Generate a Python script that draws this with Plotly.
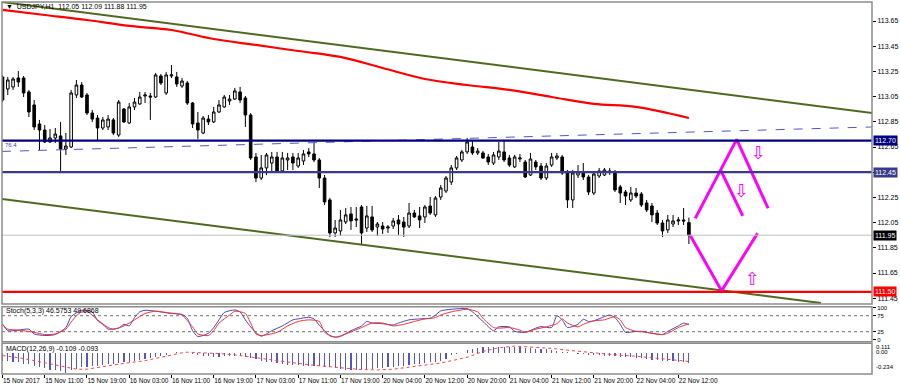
import plotly.graph_objects as go

# ---------------- data ----------------
date_labels = ["15 Nov 2017", "15 Nov 11:00", "15 Nov 19:00", "16 Nov 03:00", "16 Nov 11:00",
               "16 Nov 19:00", "17 Nov 03:00", "17 Nov 11:00", "17 Nov 19:00", "20 Nov 04:00",
               "20 Nov 12:00", "20 Nov 20:00", "21 Nov 04:00", "21 Nov 12:00", "21 Nov 20:00",
               "22 Nov 04:00", "22 Nov 12:00"]
date_tick_bars = [0, 8, 16, 24, 32, 40, 48, 56, 64, 72, 80, 88, 96, 104, 112, 120, 128]

open_ = [113.206, 113.111, 113.127, 113.198, 113.198, 113.087, 112.984, 112.833, 112.785, 112.690,
         112.722, 112.738, 112.634, 112.650, 113.063, 113.142, 113.063, 112.920, 112.880, 112.801,
         112.809, 112.865, 112.745, 112.952, 112.841, 112.968, 112.992, 113.055, 113.055, 113.047,
         113.214, 113.079, 113.214, 113.206, 113.134, 113.158, 112.999, 112.841, 112.761, 112.872,
         112.849, 112.928, 112.968, 113.015, 113.031, 113.087, 113.039, 112.904, 112.571, 112.404,
         112.484, 112.523, 112.571, 112.460, 112.547, 112.571, 112.499, 112.539, 112.611, 112.595,
         112.547, 112.404, 112.230, 111.968, 111.984, 112.055, 112.119, 112.079, 112.174, 112.007,
         112.095, 112.015, 112.023, 112.007, 112.023, 112.071, 112.055, 112.023, 112.126, 112.103,
         112.095, 112.182, 112.111, 112.253, 112.301, 112.372, 112.484, 112.547, 112.611, 112.650,
         112.603, 112.603, 112.571, 112.523, 112.571, 112.611, 112.563, 112.492, 112.555, 112.531,
         112.428, 112.531, 112.499, 112.404, 112.507, 112.563, 112.571, 112.444, 112.230, 112.428,
         112.452, 112.412, 112.285, 112.420, 112.428, 112.460, 112.452, 112.333, 112.293, 112.230,
         112.285, 112.277, 112.206, 112.182, 112.126, 112.047, 111.992, 112.039, 112.063, 112.071,
         112.05]
high = [113.222, 113.206, 113.206, 113.253, 113.214, 113.103, 113.023, 112.865, 112.825, 112.793,
        112.801, 112.849, 112.761, 113.103, 113.182, 113.166, 113.079, 112.944, 112.904, 112.888,
        112.904, 112.880, 113.023, 112.960, 112.999, 113.039, 113.087, 113.087, 113.079, 113.238,
        113.230, 113.246, 113.301, 113.246, 113.198, 113.174, 113.007, 112.928, 112.896, 112.904,
        112.968, 113.023, 113.063, 113.063, 113.119, 113.127, 113.055, 112.920, 112.603, 112.587,
        112.603, 112.611, 112.611, 112.611, 112.603, 112.603, 112.603, 112.626, 112.642, 112.682,
        112.563, 112.428, 112.245, 112.071, 112.150, 112.166, 112.174, 112.174, 112.190, 112.182,
        112.182, 112.055, 112.055, 112.031, 112.087, 112.111, 112.095, 112.206, 112.150, 112.174,
        112.190, 112.253, 112.261, 112.349, 112.420, 112.507, 112.579, 112.626, 112.722, 112.698,
        112.642, 112.618, 112.595, 112.611, 112.690, 112.706, 112.587, 112.587, 112.595, 112.547,
        112.603, 112.547, 112.523, 112.523, 112.603, 112.603, 112.587, 112.468, 112.468, 112.507,
        112.523, 112.428, 112.452, 112.484, 112.484, 112.484, 112.468, 112.349, 112.309, 112.333,
        112.325, 112.293, 112.230, 112.206, 112.150, 112.071, 112.111, 112.111, 112.095, 112.166,
        112.09]
low = [113.007, 113.063, 113.103, 113.127, 113.047, 112.888, 112.785, 112.626, 112.682, 112.682,
       112.682, 112.460, 112.587, 112.642, 113.039, 113.039, 112.904, 112.849, 112.706, 112.785,
       112.785, 112.745, 112.730, 112.841, 112.833, 112.944, 112.984, 112.999, 112.865, 113.039,
       113.142, 113.063, 113.198, 113.127, 113.119, 112.984, 112.801, 112.714, 112.753, 112.825,
       112.841, 112.920, 112.960, 112.984, 113.023, 112.999, 112.809, 112.547, 112.372, 112.388,
       112.428, 112.452, 112.444, 112.444, 112.468, 112.468, 112.484, 112.507, 112.571, 112.531,
       112.325, 112.190, 111.936, 111.936, 111.944, 112.039, 111.992, 112.015, 111.880, 111.976,
       111.976, 111.944, 111.960, 111.968, 111.999, 111.952, 111.936, 112.007, 112.087, 112.007,
       112.047, 112.111, 112.095, 112.230, 112.285, 112.349, 112.468, 112.531, 112.595, 112.587,
       112.587, 112.555, 112.507, 112.507, 112.547, 112.531, 112.492, 112.484, 112.531, 112.404,
       112.420, 112.468, 112.388, 112.388, 112.492, 112.547, 112.428, 112.166, 112.166, 112.404,
       112.388, 112.269, 112.269, 112.404, 112.420, 112.428, 112.293, 112.206, 112.190, 112.214,
       112.245, 112.174, 112.134, 112.055, 112.031, 111.936, 111.968, 112.015, 112.031, 112.031,
       111.88]
close = [113.023, 113.182, 113.190, 113.166, 113.079, 112.928, 112.809, 112.785, 112.690, 112.722,
         112.753, 112.634, 112.658, 113.079, 113.142, 113.047, 112.920, 112.872, 112.801, 112.865,
         112.872, 112.761, 113.007, 112.849, 112.968, 113.007, 113.047, 113.063, 113.047, 113.222,
         113.158, 113.222, 113.222, 113.150, 113.174, 112.999, 112.833, 112.785, 112.880, 112.849,
         112.928, 112.984, 113.047, 113.031, 113.095, 113.023, 112.904, 112.563, 112.404, 112.484,
         112.587, 112.571, 112.452, 112.563, 112.563, 112.523, 112.563, 112.595, 112.595, 112.547,
         112.404, 112.214, 111.968, 112.007, 112.071, 112.111, 112.063, 112.071, 111.968, 112.103,
         111.992, 112.039, 111.999, 112.015, 112.063, 112.039, 112.015, 112.126, 112.095, 112.071,
         112.174, 112.126, 112.245, 112.325, 112.404, 112.484, 112.563, 112.611, 112.690, 112.603,
         112.618, 112.563, 112.531, 112.587, 112.618, 112.547, 112.507, 112.571, 112.563, 112.412,
         112.555, 112.492, 112.404, 112.499, 112.571, 112.579, 112.444, 112.230, 112.444, 112.452,
         112.412, 112.293, 112.436, 112.460, 112.468, 112.452, 112.309, 112.285, 112.261, 112.285,
         112.261, 112.190, 112.150, 112.111, 112.047, 111.984, 112.071, 112.063, 112.071, 112.063,
         111.95]

ma_bars = [0, 8, 16, 24, 32, 40, 48, 56, 64, 72, 80, 88, 96, 104, 112, 120, 130]
ma_values = [113.738, 113.698, 113.658, 113.611, 113.579, 113.507, 113.460, 113.412, 113.365,
             113.277, 113.190, 113.142, 113.103, 113.047, 112.992, 112.968, 112.880]

stoch_k_bars = [0, 1, 3, 5, 6, 8, 10, 12, 13, 15, 17, 18, 19, 20, 22, 23, 24, 25, 26, 27, 29, 32,
                34, 35, 36, 37, 39, 40, 41, 42, 44, 45, 46, 47, 48, 49, 50, 51, 53, 55, 56, 58, 59,
                60, 61, 62, 63, 64, 66, 68, 69, 70, 72, 74, 75, 77, 79, 81, 82, 83, 85, 88, 89, 91,
                93, 94, 96, 97, 99, 101, 102, 104, 105, 106, 107, 109, 110, 111, 112, 114, 115, 116,
                117, 118, 120, 122, 123, 125, 126, 128, 129, 130]
stoch_k = [49, 28, 30, 33, 18, 13, 16, 38, 72, 92, 87, 60, 48, 33, 36, 48, 43, 69, 87, 92, 89, 82,
           79, 67, 28, 10, 20, 38, 62, 85, 93, 87, 62, 40, 22, 11, 18, 28, 43, 62, 65, 70, 65,
           45, 28, 12, 8, 10, 28, 43, 57, 52, 50, 46, 52, 62, 65, 67, 77, 90, 95, 97, 87, 57,
           28, 40, 40, 26, 23, 36, 41, 38, 75, 62, 38, 48, 64, 57, 59, 72, 77, 69,
           48, 23, 26, 23, 20, 16, 26, 43, 52, 46.58]
stoch_d_bars = [0, 1, 3, 6, 8, 10, 12, 13, 14, 15, 16, 18, 20, 21, 23, 25, 27, 29, 31, 34, 35, 36,
                37, 39, 40, 41, 43, 44, 46, 47, 48, 49, 52, 54, 56, 58, 60, 61, 63, 65, 68, 70, 72,
                74, 76, 78, 80, 82, 83, 85, 88, 90, 91, 93, 94, 96, 98, 99, 101, 103, 105, 106, 107,
                109, 110, 112, 114, 116, 117, 118, 120, 121, 123, 125, 126, 128, 130]
stoch_d = [47, 33, 30, 23, 16, 18, 33, 55, 75, 87, 89, 62, 38, 33, 43, 62, 82, 89, 85, 77, 60, 40,
           18, 13, 28, 52, 77, 89, 82, 52, 18, 13, 23, 43, 57, 62, 57, 23, 8, 18, 38, 52, 52,
           43, 48, 57, 65, 69, 77, 87, 95, 87, 67, 38, 36, 38, 30, 23, 33, 40, 50, 65, 52,
           40, 48, 59, 62, 72, 62, 38, 26, 26, 20, 16, 20, 38, 49.69]

macd_hist = [-0.084, -0.084, -0.096, -0.103, -0.123, -0.123, -0.142, -0.153, -0.172, -0.188,
             -0.188, -0.199, -0.218, -0.188, -0.180, -0.161, -0.153, -0.142, -0.142, -0.134,
             -0.123, -0.123, -0.115, -0.103, -0.096, -0.084, -0.077, -0.065, -0.057, -0.046,
             -0.034, -0.019, 0.004, 0.011, 0.004, 0.002, -0.008, -0.019, -0.027, -0.034,
             -0.038, -0.038, -0.034, -0.034, -0.034, -0.034, -0.042, -0.054, -0.065, -0.084,
             -0.096, -0.103, -0.115, -0.123, -0.130, -0.134, -0.134, -0.142, -0.142, -0.142,
             -0.149, -0.153, -0.161, -0.172, -0.180, -0.188, -0.188, -0.188, -0.188, -0.180,
             -0.180, -0.172, -0.172, -0.161, -0.161, -0.149, -0.142, -0.134, -0.123, -0.123,
             -0.111, -0.103, -0.096, -0.084, -0.065, -0.019, -0.008, 0.004, 0.031, 0.050,
             0.057, 0.069, 0.069, 0.069, 0.069, 0.069, 0.069, 0.069, 0.065, 0.057,
             0.054, 0.050, 0.046, 0.042, 0.034, 0.027, 0.015, 0.008, 0.002, -0.008,
             -0.008, -0.015, -0.015, -0.019, -0.027, -0.034, -0.034, -0.038, -0.042, -0.046,
             -0.054, -0.057, -0.065, -0.073, -0.080, -0.084, -0.088, -0.092, -0.096, -0.100,
             -0.109]
signal_bars = [0, 3, 6, 9, 12, 14, 16, 17, 20, 23, 27, 30, 32, 34, 35, 37, 41, 44, 46, 49, 52, 55,
               58, 61, 65, 68, 71, 74, 77, 80, 83, 85, 88, 91, 94, 97, 100, 104, 107, 110, 113,
               116, 120, 123, 126, 129, 130]
signal_values = [-0.027, -0.050, -0.084, -0.123, -0.161, -0.180, -0.180, -0.172, -0.142, -0.115,
                 -0.084, -0.046, -0.019, 0.004, 0.011, 0.008, -0.004, -0.019, -0.034, -0.054,
                 -0.080, -0.107, -0.130, -0.149, -0.169, -0.184, -0.188, -0.180, -0.161, -0.134,
                 -0.111, -0.084, -0.046, 0.019, 0.061, 0.080, 0.069, 0.054, 0.034, 0.015, -0.004,
                 -0.019, -0.034, -0.054, -0.069, -0.088, -0.093]

price_ticks = [111.45, 111.65, 111.85, 112.05, 112.25, 112.45, 112.65, 112.85, 113.05, 113.25,
               113.45, 113.65]
level_resistance = 112.70
level_mid = 112.45
level_support = 111.50
level_bid = 111.95

upper_channel_bars = [-0.1, 164.7]
upper_channel_prices = [113.801, 112.920]
lower_channel_bars = [-0.1, 155.0]
lower_channel_prices = [112.238, 111.412]
fib_bars = [-0.1, 164.7]
fib_prices = [112.615, 112.809]

forecast_up_bars = [131.2, 139.05, 145.0]
forecast_up_prices = [112.084, 112.711, 112.164]
forecast_mid_bars = [136.0, 140.2]
forecast_mid_prices = [112.468, 112.103]
forecast_down_bars = [130.2, 136.2, 143.0]
forecast_down_prices = [111.952, 111.508, 111.965]

stoch_levels = [25, 75]

# ---------------- figure ----------------
bars = list(range(len(close)))
FONT = "Liberation Sans, Arial, sans-serif"

fig = go.Figure()

fig.add_trace(go.Candlestick(
    x=bars, open=open_, high=high, low=low, close=close,
    increasing=dict(line=dict(color="black", width=1), fillcolor="white"),
    decreasing=dict(line=dict(color="black", width=1), fillcolor="black"),
    whiskerwidth=0, showlegend=False, hoverinfo="skip", xaxis="x", yaxis="y"))

fig.add_trace(go.Scatter(x=ma_bars, y=ma_values, mode="lines", line=dict(color="#FF0000", width=2.2, shape="spline"),
                         showlegend=False, hoverinfo="skip", xaxis="x", yaxis="y"))

fig.add_trace(go.Scatter(x=upper_channel_bars, y=upper_channel_prices, mode="lines",
                         line=dict(color="#4F6A1E", width=2), showlegend=False, hoverinfo="skip"))
fig.add_trace(go.Scatter(x=lower_channel_bars, y=lower_channel_prices, mode="lines",
                         line=dict(color="#4F6A1E", width=2), showlegend=False, hoverinfo="skip"))
fig.add_trace(go.Scatter(x=fib_bars, y=fib_prices, mode="lines",
                         line=dict(color="#5555C8", width=1, dash="dash"), showlegend=False, hoverinfo="skip"))

for bx, py in [(forecast_up_bars, forecast_up_prices), (forecast_mid_bars, forecast_mid_prices),
               (forecast_down_bars, forecast_down_prices)]:
    fig.add_trace(go.Scatter(x=bx, y=py, mode="lines", line=dict(color="#FF00FF", width=3),
                             showlegend=False, hoverinfo="skip", xaxis="x", yaxis="y"))

# stochastic
fig.add_trace(go.Scatter(x=stoch_k_bars, y=stoch_k, mode="lines",
                         line=dict(color="#4646C0", width=1, shape="spline", smoothing=0.6),
                         showlegend=False, hoverinfo="skip", xaxis="x", yaxis="y2"))
fig.add_trace(go.Scatter(x=stoch_d_bars, y=stoch_d, mode="lines",
                         line=dict(color="#FF3030", width=1, shape="spline", smoothing=0.6),
                         showlegend=False, hoverinfo="skip", xaxis="x", yaxis="y2"))

# MACD
fig.add_trace(go.Bar(x=bars, y=macd_hist, width=0.22, marker=dict(color="#5555C0", line=dict(width=0)),
                     showlegend=False, hoverinfo="skip", xaxis="x", yaxis="y3"))
fig.add_trace(go.Scatter(x=signal_bars, y=signal_values, mode="lines",
                         line=dict(color="#FF4040", width=1, dash="dot"),
                         showlegend=False, hoverinfo="skip", xaxis="x", yaxis="y3"))

# panes (pixel layout: plot area y 2..374)
H = 372.0
def pf(ypix):
    return 1 - (ypix - 2) / H

main_dom = [pf(304), 1]
stoch_dom = [pf(341.7), pf(306.7)]
macd_dom = [0, pf(343.3)]

shapes = []
for lvl, col, w in [(level_bid, "#C0C0C0", 1), (level_resistance, "#000080", 2.2),
                    (level_mid, "#3A3A8A", 2.2), (level_support, "#FF0000", 2.2)]:
    shapes.append(dict(type="line", xref="paper", yref="y", x0=0, x1=1, y0=lvl, y1=lvl,
                       line=dict(color=col, width=w), layer="above"))
for lv in stoch_levels:
    shapes.append(dict(type="line", xref="paper", yref="y2", x0=0, x1=1, y0=lv, y1=lv,
                       line=dict(color="#707070", width=1, dash="dot"), layer="below"))
for dom in (main_dom, stoch_dom, macd_dom):
    shapes.append(dict(type="rect", xref="paper", yref="paper", x0=0, x1=1, y0=dom[0], y1=dom[1],
                       line=dict(color="#8C8C8C", width=1.5), layer="above"))

annotations = []
annotations.append(dict(xref="paper", yref="paper", x=0.002, y=pf(6.5), xanchor="left", yanchor="middle",
                        text="\u25BC  USDJPY,H1  112.05 112.09 111.88 111.95", showarrow=False,
                        font=dict(size=7, color="black", family=FONT)))
annotations.append(dict(xref="paper", yref="paper", x=0.002, y=pf(310.5), xanchor="left", yanchor="middle",
                        text="Stoch(5,3,3) 46.5753 49.6868", showarrow=False,
                        font=dict(size=7, color="black", family=FONT)))
annotations.append(dict(xref="paper", yref="paper", x=0.002, y=pf(349), xanchor="left", yanchor="middle",
                        text="MACD(12,26,9) -0.109 -0.093", showarrow=False,
                        font=dict(size=7, color="black", family=FONT)))
annotations.append(dict(xref="x", yref="y", x=0.0, y=112.668, xanchor="left", yanchor="middle",
                        text="76.4", showarrow=False, font=dict(size=6, color="#4040C0", family=FONT)))
for txt, ypx in [("0.111", 346.5), ("0.00", 352.0), ("-0.234", 366.7)]:
    annotations.append(dict(xref="paper", yref="paper", x=1, y=pf(ypx), xanchor="left", yanchor="middle",
                            xshift=2, text=txt, showarrow=False, font=dict(size=6, color="black", family=FONT)))
for lvl, bg in [(level_resistance, "#000080"), (level_mid, "#3A3A8A"), (level_bid, "#000000"),
                (level_support, "#FF0000")]:
    annotations.append(dict(xref="paper", yref="y", x=1, y=lvl, xanchor="left", yanchor="middle",
                            xshift=1, text=f"{lvl:.2f}", showarrow=False, bgcolor=bg, borderpad=1,
                            font=dict(size=7, color="white", family=FONT)))
for bx, py, sym in [(143.1, 112.61, "\u21E9"), (140.0, 112.305, "\u21E9"), (142.1, 111.603, "\u21E7")]:
    annotations.append(dict(xref="x", yref="y", x=bx, y=py, text=sym, showarrow=False,
                            font=dict(size=18, color="#FF00FF", family="DejaVu Sans")))

axis_common = dict(showgrid=False, zeroline=False, showline=False, automargin=False)
price_ticktext = ["" if abs(p - level_mid) < 1e-9 else f"{p:.2f}" for p in price_ticks]
fig.update_layout(
    width=900, height=387,
    margin=dict(l=2, r=28, t=2, b=13, autoexpand=False),
    paper_bgcolor="white", plot_bgcolor="white",
    showlegend=False, bargap=0, boxgap=0.3,
    font=dict(family=FONT, size=7, color="black"),
    xaxis=dict(domain=[0, 1], range=[-0.095, 164.68], anchor="y3", tickvals=date_tick_bars,
               ticktext=date_labels, ticks="outside", ticklen=3, tickcolor="black", tickangle=0,
               ticklabelposition="outside right", tickfont=dict(size=6.5, family=FONT),
               rangeslider=dict(visible=False), **axis_common),
    yaxis=dict(domain=main_dom, range=[111.404, 113.801], side="right", anchor="x",
               tickvals=price_ticks, ticktext=price_ticktext,
               ticks="outside", ticklen=3, tickcolor="black", tickfont=dict(size=7, family=FONT),
               **axis_common),
    yaxis2=dict(domain=stoch_dom, range=[-6.3, 103.1], side="right", anchor="x",
                tickvals=[0, 25, 75, 100], ticktext=["0", "25", "75", "100"],
                ticks="outside", ticklen=3, tickcolor="black", tickfont=dict(size=6, family=FONT),
                **axis_common),
    yaxis3=dict(domain=macd_dom, range=[-0.234, 0.111], side="right", anchor="x",
                showticklabels=False, ticks="", **axis_common),
    shapes=shapes, annotations=annotations,
)

fig.write_html("out.html", config={"displayModeBar": False, "staticPlot": True},
               post_script="document.body.style.margin='0px';document.body.style.overflow='hidden';")
